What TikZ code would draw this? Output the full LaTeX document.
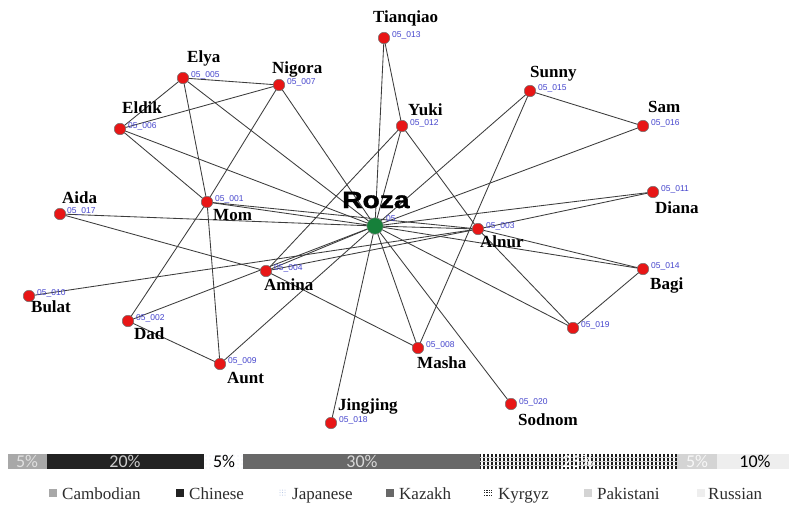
\documentclass[tikz,border=0pt]{standalone}
\usepackage{fontspec}
\setmainfont{Liberation Serif}
\newfontfamily\sansf{Liberation Sans}
\newfontfamily\rozaf[FakeStretch=1.2,BoldFeatures={FakeBold=1.6}]{Liberation Sans}
\newfontfamily\calf{Carlito}
\usetikzlibrary{backgrounds}

\definecolor{idblue}{RGB}{70,70,205}
\definecolor{nodered}{RGB}{232,22,22}
\definecolor{rozagreen}{RGB}{22,128,58}
\definecolor{edgegray}{RGB}{60,60,60}
\definecolor{legtext}{RGB}{45,45,45}
\definecolor{cCamb}{RGB}{168,168,168}
\definecolor{cChin}{RGB}{34,34,34}
\definecolor{cKaz}{RGB}{104,104,104}
\definecolor{cKyr}{RGB}{30,30,30}
\definecolor{cPak}{RGB}{212,212,212}
\definecolor{cRus}{RGB}{238,238,238}
\definecolor{dotblue}{RGB}{170,190,225}

\begin{document}
\begin{tikzpicture}[x=1pt,y=-1pt,
  rn/.style={circle,fill=nodered,draw=black!55,line width=0.5pt,inner sep=0pt,minimum size=11.5pt},
  gn/.style={circle,fill=rozagreen,draw=black!45,line width=0.5pt,inner sep=0pt,minimum size=16.5pt},
  nm/.style={anchor=base west,inner sep=0pt,font=\fontsize{17}{19}\selectfont\bfseries},
  idl/.style={anchor=west,inner sep=0pt,font=\sansf\fontsize{8.5}{9}\selectfont,text=idblue},
  ed/.style={draw=edgegray,line width=0.85pt},
  pct/.style={inner sep=0pt,anchor=base,font=\calf\fontsize{18}{20}\selectfont},
  lg/.style={anchor=base west,inner sep=0pt,font=\fontsize{17}{19}\selectfont,text=legtext}]

\useasboundingbox (0,0) rectangle (789,506);

% ---------- network nodes ----------
\node[gn] (roza)   at (375,226) {};
\node[rn] (tian)   at (384,38)  {};
\node[rn] (yuki)   at (402,126) {};
\node[rn] (elya)   at (183,78)  {};
\node[rn] (nigora) at (279,85)  {};
\node[rn] (eldik)  at (120,129) {};
\node[rn] (mom)    at (207,202) {};
\node[rn] (aida)   at (60,214)  {};
\node[rn] (sunny)  at (530,91)  {};
\node[rn] (sam)    at (643,126) {};
\node[rn] (diana)  at (653,192) {};
\node[rn] (alnur)  at (478,229) {};
\node[rn] (amina)  at (266,271) {};
\node[rn] (bulat)  at (29,296)  {};
\node[rn] (dad)    at (128,321) {};
\node[rn] (aunt)   at (220,364) {};
\node[rn] (jing)   at (331,423) {};
\node[rn] (bagi)   at (643,269) {};
\node[rn] (n19)    at (573,328) {};
\node[rn] (masha)  at (418,348) {};
\node[rn] (sodnom) at (511,404) {};

% ---------- edges ----------
\begin{pgfonlayer}{background}
\fill[white] (0,0) rectangle (789,506);
\foreach \a/\b in {roza/elya,roza/nigora,roza/eldik,roza/tian,roza/yuki,roza/sunny,
  roza/sam,roza/diana,roza/alnur,roza/bagi,roza/n19,roza/sodnom,roza/masha,roza/jing,
  roza/aunt,roza/amina,roza/dad,bulat/alnur,roza/aida,roza/mom,
  elya/nigora,elya/eldik,elya/mom,nigora/eldik,nigora/mom,eldik/mom,mom/dad,mom/aunt,
  dad/aunt,aida/amina,amina/masha,amina/yuki,amina/alnur,yuki/tian,yuki/alnur,
  sunny/sam,sunny/masha,diana/alnur,alnur/bagi,alnur/n19,bagi/n19,mom/alnur}
  \draw[ed] (\a.center) -- (\b.center);
\end{pgfonlayer}

% ---------- name labels ----------
\node[anchor=base west,inner sep=0pt,font=\rozaf\bfseries\fontsize{23.5}{25}\selectfont] (lroza) at (342,208) {Roza};
\node[nm] (ltian)   at (373,23)  {Tianqiao};
\node[nm] (lyuki)   at (408,115) {Yuki};
\node[nm] (lelya)   at (187,62)  {Elya};
\node[nm] (lnigora) at (272,73)  {Nigora};
\node[nm] (leldik)  at (122,113) {Eldik};
\node[nm] (lmom)    at (213,220) {Mom};
\node[nm] (laida)   at (62,203)  {Aida};
\node[nm] (lsunny)  at (530,77)  {Sunny};
\node[nm] (lsam)    at (648,112) {Sam};
\node[nm] (ldiana)  at (655,213) {Diana};
\node[nm] (lalnur)  at (480,247) {Alnur};
\node[nm] (lamina)  at (264,290) {Amina};
\node[nm] (lbulat)  at (31,312)  {Bulat};
\node[nm] (ldad)    at (134,339) {Dad};
\node[nm] (launt)   at (227,383) {Aunt};
\node[nm] (ljing)   at (338,410) {Jingjing};
\node[nm] (lbagi)   at (650,289) {Bagi};
\node[nm] (lmasha)  at (417,368) {Masha};
\node[nm] (lsodnom) at (518,425) {Sodnom};

% ---------- id labels ----------
\node[idl] (iroza)   at (386,219) {05};
\node[idl] (itian)   at (392,35)  {05\_013};
\node[idl] (iyuki)   at (410,123) {05\_012};
\node[idl] (ielya)   at (191,75)  {05\_005};
\node[idl] (inigora) at (287,82)  {05\_007};
\node[idl] (ieldik)  at (128,126) {05\_006};
\node[idl] (imom)    at (215,199) {05\_001};
\node[idl] (iaida)   at (67,211)  {05\_017};
\node[idl] (isunny)  at (538,88)  {05\_015};
\node[idl] (isam)    at (651,123) {05\_016};
\node[idl] (idiana)  at (661,189) {05\_011};
\node[idl] (ialnur)  at (486,226) {05\_003};
\node[idl] (iamina)  at (274,268) {05\_004};
\node[idl] (ibulat)  at (37,293)  {05\_010};
\node[idl] (idad)    at (136,318) {05\_002};
\node[idl] (iaunt)   at (228,361) {05\_009};
\node[idl] (ijing)   at (339,420) {05\_018};
\node[idl] (ibagi)   at (651,266) {05\_014};
\node[idl] (in19)    at (581,325) {05\_019};
\node[idl] (imasha)  at (426,345) {05\_008};
\node[idl] (isodnom) at (519,402) {05\_020};

% ---------- stacked bar ----------
\fill[cCamb] (8,454) rectangle (47,469);
\fill[cChin] (47,454) rectangle (204,469);
\fill[white] (204,454) rectangle (243,469);
\foreach \x in {206,210,...,242} \foreach \y in {456,460,...,468}
  \fill[dotblue] (\x,\y) circle (0.45);
\fill[cKaz] (243,454) rectangle (480,469);
\fill[cKyr] (480,454) rectangle (677,469);
\foreach \x in {482,486,...,676} \draw[white,line width=1.1pt] (\x,454) -- (\x,469);
\foreach \y in {457,461,465} \draw[white!80!black,line width=0.6pt] (480,\y) -- (677,\y);
\fill[cPak] (677,454) rectangle (717,469);
\fill[cRus] (717,454) rectangle (789,469);

\node[pct,text=black!12] (p1) at (27,467) {5\%};
\node[pct,text=black!20] (p2) at (125,467) {20\%};
\node[pct,text=black]    (p3) at (224,467) {5\%};
\node[pct,text=black!15] (p4) at (362,467) {30\%};
\node[pct,text=white]    (p5) at (578,467) {25\%};
\node[pct,text=black!3]  (p6) at (697,467) {5\%};
\node[pct,text=black]    (p7) at (755,467) {10\%};

% ---------- legend ----------
\fill[cCamb] (49,489) rectangle (57,497);
\node[lg] (tcamb) at (62,499) {Cambodian};
\fill[cChin] (176,489) rectangle (184,497);
\node[lg] (tchin) at (189,499) {Chinese};
\foreach \x in {280,282.5,285} \foreach \y in {490,492.5,495} \fill[dotblue] (\x,\y) circle (0.5);
\node[lg] (tjap) at (292,499) {Japanese};
\fill[cKaz] (386,489) rectangle (394,497);
\node[lg] (tkaz) at (399,499) {Kazakh};
\foreach \y in {490,492.5,495} \draw[black!85,line width=0.9pt] (484,\y) -- (492,\y);
\foreach \x in {485.5,488,490.5} \draw[white,line width=0.4pt] (\x,489) -- (\x,496);
\node[lg] (tkyr) at (498,499) {Kyrgyz};
\fill[cPak] (584,489) rectangle (592,497);
\node[lg] (tpak) at (597,499) {Pakistani};
\fill[cRus] (697,489) rectangle (705,497);
\node[lg] (trus) at (708,499) {Russian};
\end{tikzpicture}
\end{document}
